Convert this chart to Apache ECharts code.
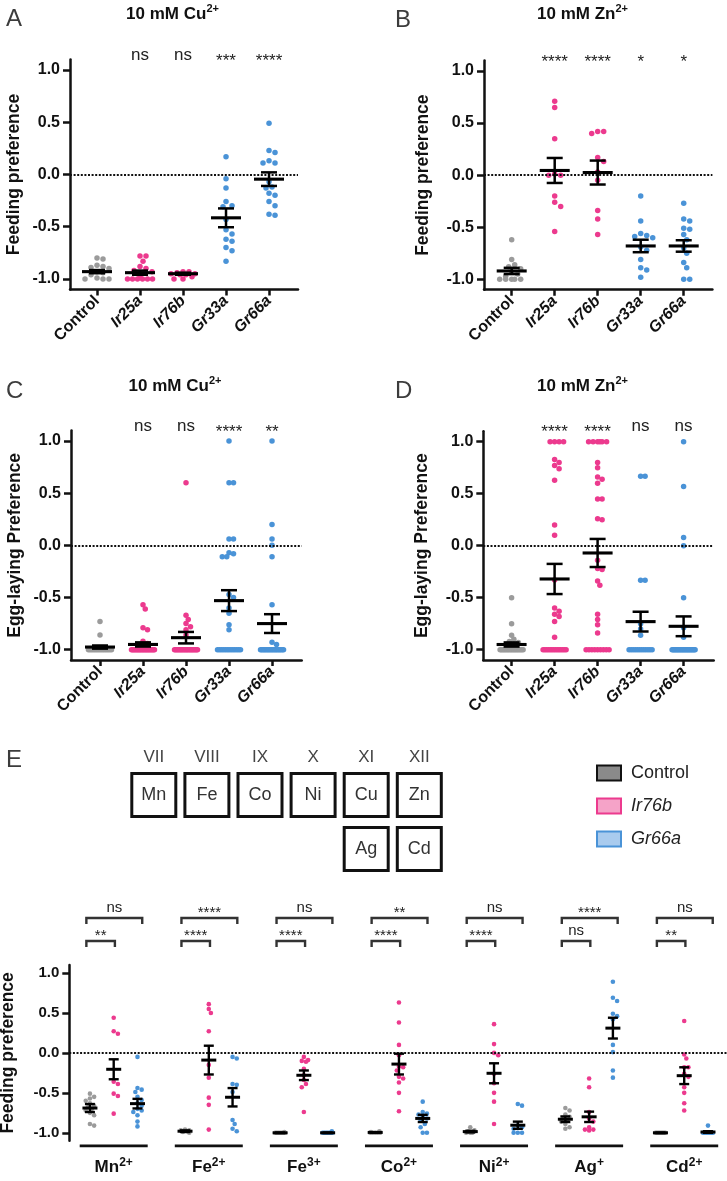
<!DOCTYPE html>
<html><head><meta charset="utf-8">
<script src="https://cdn.jsdelivr.net/npm/echarts@6/dist/echarts.min.js"></script>
<style>html,body{margin:0;padding:0;background:#fff}#c{width:727px;height:1181px}</style>
</head><body><div id="c"></div>
<script>
// ---------------- DATA ----------------
const genotypes = ['Control', 'Ir25a', 'Ir76b', 'Gr33a', 'Gr66a'];
const yTicks = [-1, -0.5, 0, 0.5, 1];

// A: feeding preference, 10 mM Cu2+
const feedCuValues = [
  [-0.80, -0.81, -0.87, -0.88, -0.89, -0.90, -0.93, -0.94, -0.96, -0.99, -1.0, -1.0, -1.0],
  [-0.78, -0.78, -0.83, -0.88, -0.90, -0.92, -0.93, -0.95, -0.98, -1.0, -1.0, -1.0, -1.0, -1.0, -1.0],
  [-0.93, -0.93, -0.94, -0.95, -0.95, -0.96, -0.96, -0.98, -1.0, -1.0],
  [0.17, -0.04, -0.13, -0.26, -0.30, -0.31, -0.43, -0.53, -0.57, -0.62, -0.64, -0.70, -0.73, -0.83],
  [0.49, 0.23, 0.21, 0.13, 0.11, 0.11, -0.07, -0.12, -0.13, -0.18, -0.20, -0.26, -0.30, -0.38, -0.39]
];
const feedCuMean = [-0.93, -0.94, -0.95, -0.415, -0.045];
const feedCuSem = [0.015, 0.02, 0.01, 0.09, 0.065];
const feedCuSig = ['', 'ns', 'ns', '***', '****'];

// B: feeding preference, 10 mM Zn2+
const feedZnValues = [
  [-0.62, -0.81, -0.86, -0.88, -0.90, -0.93, -0.95, -0.97, -1.0, -1.0, -1.0, -1.0, -1.0],
  [0.71, 0.65, 0.35, 0.01, 0.0, 0.0, -0.20, -0.26, -0.30, -0.54],
  [0.42, 0.40, 0.42, 0.17, 0.13, 0.03, -0.05, -0.34, -0.42, -0.57],
  [-0.20, -0.44, -0.56, -0.58, -0.59, -0.60, -0.69, -0.72, -0.81, -0.89, -0.91, -0.98],
  [-0.27, -0.42, -0.44, -0.51, -0.52, -0.57, -0.62, -0.70, -0.75, -0.84, -0.89, -1.0, -1.0]
];
const feedZnMean = [-0.92, 0.045, 0.025, -0.68, -0.68];
const feedZnSem = [0.03, 0.12, 0.115, 0.06, 0.055];
const feedZnSig = ['', '****', '****', '*', '*'];

// C: egg-laying preference, 10 mM Cu2+
const eggCuValues = [
  [-0.73, -0.86, -1, -1, -1, -1, -1, -1, -1, -1, -1, -1, -1, -1, -1, -1],
  [-0.57, -0.61, -0.79, -0.81, -0.92, -0.94, -1, -1, -1, -1, -1, -1, -1, -1, -1, -1, -1, -1, -1, -1, -1, -1, -1, -1, -1, -1, -1],
  [0.6, -0.67, -0.71, -0.75, -0.78, -0.81, -0.86, -1, -1, -1, -1, -1, -1, -1, -1, -1, -1, -1, -1, -1, -1, -1, -1, -1, -1, -1, -1],
  [1.0, 0.6, 0.6, 0.06, 0.06, -0.07, -0.08, -0.11, -0.11, -0.47, -0.5, -0.6, -0.65, -0.76, -0.81, -1, -1, -1, -1, -1, -1, -1, -1, -1, -1, -1, -1, -1],
  [1.0, 0.2, 0.06, 0.0, -0.11, -0.57, -0.93, -0.95, -1, -1, -1, -1, -1, -1, -1, -1, -1, -1, -1, -1, -1, -1, -1, -1, -1, -1]
];
const eggCuMean = [-0.975, -0.95, -0.885, -0.53, -0.75];
const eggCuSem = [0.015, 0.02, 0.055, 0.1, 0.09];
const eggCuSig = ['', 'ns', 'ns', '****', '**'];

// D: egg-laying preference, 10 mM Zn2+
const eggZnValues = [
  [-0.5, -0.75, -0.86, -0.90, -0.92, -0.93, -1, -1, -1, -1, -1, -1, -1, -1, -1, -1, -1, -1, -1, -1, -1, -1, -1],
  [1, 1, 1, 1, 0.83, 0.80, 0.77, 0.74, 0.63, 0.20, 0.10, -0.33, -0.60, -0.63, -0.66, -0.68, -0.73, -0.88, -1, -1, -1, -1, -1, -1, -1, -1, -1, -1, -1, -1, -1, -1],
  [1, 1, 1, 1, 1, 1, 0.80, 0.75, 0.66, 0.64, 0.60, 0.45, 0.45, 0.26, 0.25, -0.14, -0.22, -0.23, -0.34, -0.38, -0.66, -0.71, -0.76, -0.84, -1, -1, -1, -1, -1, -1, -1, -1, -1],
  [0.667, 0.667, -0.333, -0.333, -0.75, -0.80, -0.86, -1, -1, -1, -1, -1, -1, -1, -1, -1, -1, -1, -1],
  [1.0, 0.57, 0.08, 0.0, -0.5, -0.79, -0.88, -1, -1, -1, -1, -1, -1, -1, -1, -1, -1, -1, -1, -1, -1, -1, -1, -1, -1, -1, -1, -1, -1]
];
const eggZnMean = [-0.95, -0.32, -0.07, -0.73, -0.775];
const eggZnSem = [0.02, 0.145, 0.135, 0.095, 0.095];
const eggZnSig = ['', '****', '****', 'ns', 'ns'];

// E: feeding preference for metal ions
const metalIons = [['Mn', '2+'], ['Fe', '2+'], ['Fe', '3+'], ['Co', '2+'], ['Ni', '2+'], ['Ag', '+'], ['Cd', '2+']];
const metalGenotypes = ['Control', 'Ir76b', 'Gr66a'];
const metalControl = [
  [-0.51, -0.55, -0.57, -0.60, -0.63, -0.66, -0.68, -0.70, -0.72, -0.75, -0.78, -0.89, -0.91],
  [-0.96, -0.97, -0.97, -0.98, -0.99, -1.0],
  [-0.99, -1.0, -1.0, -1.0, -1.0, -1.0, -1.0, -1.0],
  [-0.98, -0.99, -1.0, -1.0, -1.0, -1.0, -1.0],
  [-0.93, -0.97, -0.98, -1.0, -1.0, -1.0],
  [-0.69, -0.72, -0.77, -0.80, -0.82, -0.84, -0.86, -0.89, -0.93, -0.95],
  [-1.0, -1.0, -1.0, -1.0, -1.0, -1.0, -1.0, -1.0]
];
const metalIr76b = [
  [0.44, 0.27, 0.24, -0.36, -0.39, -0.51, -0.54, -0.76],
  [0.61, 0.55, 0.50, 0.27, -0.15, -0.31, -0.56, -0.65, -0.96],
  [-0.05, -0.09, -0.10, -0.11, -0.20, -0.28, -0.34, -0.39, -0.43, -0.74],
  [0.63, 0.38, 0.10, -0.03, -0.17, -0.18, -0.22, -0.30, -0.32, -0.37, -0.50, -0.73],
  [0.36, 0.11, 0.0, -0.03, -0.26, -0.38, -0.50, -0.61, -0.89],
  [-0.32, -0.43, -0.74, -0.82, -0.86, -0.93, -0.96, -0.96, -0.97],
  [0.40, -0.02, -0.07, -0.18, -0.18, -0.26, -0.30, -0.43, -0.50, -0.63, -0.72]
];
const metalGr66a = [
  [-0.05, -0.44, -0.46, -0.49, -0.55, -0.59, -0.63, -0.66, -0.70, -0.72, -0.74, -0.78, -0.86, -0.92],
  [-0.05, -0.07, -0.39, -0.40, -0.49, -0.84, -0.89, -0.95, -0.98],
  [-0.98, -1.0, -1.0, -1.0, -1.0, -1.0, -1.0, -1.0],
  [-0.61, -0.74, -0.76, -0.77, -0.80, -0.82, -0.85, -0.89, -0.93, -1.0, -1.0],
  [-0.64, -0.66, -0.91, -0.93, -0.95, -1.0, -1.0, -1.0],
  [0.89, 0.69, 0.65, 0.49, 0.46, 0.42, 0.10, 0.01, -0.22, -0.31],
  [-0.91, -1.0, -1.0, -1.0, -1.0, -1.0, -1.0, -1.0]
];
// [Control, Ir76b, Gr66a]
const metalMeans = [
  [-0.69, -0.205, -0.635], [-0.98, -0.09, -0.555], [-1.0, -0.28, -1.0], [-0.995, -0.14, -0.82],
  [-0.985, -0.255, -0.905], [-0.83, -0.80, 0.31], [-1.0, -0.285, -0.99]
];
const metalSems = [
  [0.05, 0.125, 0.06], [0.01, 0.18, 0.115], [0.003, 0.06, 0.003], [0.003, 0.13, 0.045],
  [0.01, 0.125, 0.045], [0.035, 0.065, 0.13], [0.003, 0.105, 0.01]
];
const sigUpper = ['ns', '****', 'ns', '**', 'ns', '****', 'ns'];   // Control vs Gr66a
const sigLower = ['**', '****', '****', '****', '****', 'ns', '**']; // Control vs Ir76b

// periodic table
const groupNumerals = ['VII', 'VIII', 'IX', 'X', 'XI', 'XII'];
const periodRow1 = ['Mn', 'Fe', 'Co', 'Ni', 'Cu', 'Zn'];
const periodRow2 = ['', '', '', '', 'Ag', 'Cd'];

// ---------------- DRAWING ----------------
const FONT = '"Liberation Sans", Arial, Helvetica, sans-serif';
const GREY = '#9b9b9b', PINK = '#ec3a8e', BLUE = '#4a93d7';
const genoColors = [GREY, PINK, PINK, BLUE, BLUE];
const metalColors = [GREY, PINK, BLUE];

function swarmOffsets(vals, pxX, pxY, spacing, maxHalf) {
  const n = vals.length, offs = new Array(n).fill(0);
  const counts = {};
  vals.forEach(v => { const k = v.toFixed(3); counts[k] = (counts[k] || 0) + 1; });
  const isDense = i => counts[vals[i].toFixed(3)] * spacing > 2 * maxHalf + spacing;
  const idx = vals.map((v, i) => i);
  const order = idx.filter(isDense).concat(idx.filter(i => !isDense(i)).sort((a, b) => vals[b] - vals[a]));
  const placed = [], seen = {};
  for (const i of order) {
    const key = vals[i].toFixed(3), y = vals[i] * pxY;
    let x;
    if (isDense(i)) {
      const c = counts[key];
      const k = seen[key] = (seen[key] === undefined ? 0 : seen[key] + 1);
      x = -maxHalf + k * (2 * maxHalf / (c - 1));
    } else {
      const step = spacing / 2, K = Math.floor(maxHalf / step);
      let best = 0, bestD = -1;
      for (let k = 0; k <= 2 * K; k++) {
        const m = Math.ceil(k / 2) * (k % 2 === 1 ? 1 : -1);
        const cx = m * step;
        let dmin = Infinity;
        for (const p of placed) { const d = Math.hypot(p.x - cx, p.y - y); if (d < dmin) dmin = d; }
        if (dmin >= spacing) { best = cx; break; }
        if (dmin > bestD) { bestD = dmin; best = cx; }
      }
      x = best;
    }
    offs[i] = x / pxX;
    placed.push({ x, y });
  }
  return offs;
}

function errRender(meanHalf, capHalf, lw) {
  return function (params, api) {
    const x = api.value(0), m = api.value(1), s = api.value(2);
    const pm = api.coord([x, m]), pt = api.coord([x, m + s]), pb = api.coord([x, m - s]);
    const st = { stroke: '#000', lineWidth: lw };
    return { type: 'group', children: [
      { type: 'line', shape: { x1: pm[0], y1: pt[1], x2: pm[0], y2: pb[1] }, style: st },
      { type: 'line', shape: { x1: pm[0] - capHalf, y1: pt[1], x2: pm[0] + capHalf, y2: pt[1] }, style: st },
      { type: 'line', shape: { x1: pm[0] - capHalf, y1: pb[1], x2: pm[0] + capHalf, y2: pb[1] }, style: st },
      { type: 'line', shape: { x1: pm[0] - meanHalf, y1: pm[1], x2: pm[0] + meanHalf, y2: pm[1] }, style: { stroke: '#000', lineWidth: lw + 0.6 } }
    ] };
  };
}

function sigRender(labels) {
  return function (params, api) {
    const lab = labels[params.dataIndex];
    if (!lab) return null;
    const p = api.coord([api.value(0), 1.1]);
    const star = lab.indexOf('*') >= 0;
    return { type: 'text', style: { text: lab, x: p[0], y: p[1] + (star ? 1.5 : -4.5), align: 'center', verticalAlign: 'middle',
      fontSize: 17, fontFamily: FONT, fill: '#222' } };
  };
}

function yAxisCfg(gi, nameGap, name, fs) {
  return { gridIndex: gi, type: 'value', min: -1.1, max: 1.1, name: name, nameLocation: 'middle', nameGap: nameGap,
    nameMoveOverlap: false,
    nameTextStyle: { fontSize: 17.5, fontWeight: 'bold', fontFamily: FONT, color: '#111' },
    axisLine: { show: true, onZero: false, lineStyle: { color: '#111', width: 2.5 } },
    axisTick: { show: true, customValues: yTicks, length: 7, lineStyle: { color: '#111', width: 2.5 } },
    axisLabel: { customValues: yTicks, formatter: v => v.toFixed(1), fontSize: fs, fontWeight: 'bold', fontFamily: FONT, color: '#111', margin: 10 },
    splitLine: { show: false } };
}

const zeroLine = { silent: true, symbol: 'none', label: { show: false }, animation: false,
  lineStyle: { color: '#111', type: [2, 1.6], width: 2 }, data: [{ yAxis: 0 }] };

const panels = [
  { vals: feedCuValues, means: feedCuMean, sems: feedCuSem, sig: feedCuSig, yName: 'Feeding preference' },
  { vals: feedZnValues, means: feedZnMean, sems: feedZnSem, sig: feedZnSig, yName: 'Feeding preference' },
  { vals: eggCuValues, means: eggCuMean, sems: eggCuSem, sig: eggCuSig, yName: 'Egg-laying Preference' },
  { vals: eggZnValues, means: eggZnMean, sems: eggZnSem, sig: eggZnSig, yName: 'Egg-laying Preference' }
];
const geom = [
  { left: 70, top: 59.5, width: 228, height: 229.9, xmin: -0.628, xmax: 4.674, nameGap: 47, maxHalf: 12.5, spacing: 6 },
  { left: 484, top: 60.6, width: 228.4, height: 229.1, xmin: -0.644, xmax: 4.667, nameGap: 52, maxHalf: 12.5, spacing: 6 },
  { left: 71, top: 430.6, width: 230.7, height: 229.5, xmin: -0.674, xmax: 4.69, nameGap: 47, maxHalf: 11.5, spacing: 4.5 },
  { left: 483.3, top: 431.3, width: 230.4, height: 228.8, xmin: -0.658, xmax: 4.70, nameGap: 52, maxHalf: 11.5, spacing: 4.5 }
];

const grids = [], xAxes = [], yAxes = [], series = [];
const labelRich = {
  n: { fontSize: 16, fontWeight: 'bold', fontFamily: FONT, color: '#111' },
  i: { fontSize: 16, fontWeight: 'bold', fontStyle: 'italic', fontFamily: FONT, color: '#111' }
};

panels.forEach((P, pi) => {
  const G = geom[pi];
  grids.push({ left: G.left, top: G.top, width: G.width, height: G.height, outerBoundsMode: 'none', containLabel: false });
  xAxes.push({ gridIndex: pi, type: 'value', min: G.xmin, max: G.xmax,
    axisLine: { show: true, onZero: false, lineStyle: { color: '#111', width: 2.5 } },
    axisTick: { show: true, customValues: [0, 1, 2, 3, 4], length: 6, lineStyle: { color: '#111', width: 2.5 } },
    axisLabel: { customValues: [0, 1, 2, 3, 4], rotate: 45, margin: 9, hideOverlap: false,
      formatter: v => { const k = Math.round(v); return (k === 0 ? '{n|' : '{i|') + genotypes[k] + '}'; }, rich: labelRich },
    splitLine: { show: false } });
  yAxes.push(yAxisCfg(pi, G.nameGap, P.yName, 16));
  const pxX = G.width / (G.xmax - G.xmin), pxY = G.height / 2.2;
  P.vals.forEach((vals, gi) => {
    const offs = swarmOffsets(vals, pxX, pxY, G.spacing, G.maxHalf);
    const s = { type: 'scatter', name: 'p' + pi + '-' + genotypes[gi], xAxisIndex: pi, yAxisIndex: pi, symbolSize: 5.5,
      itemStyle: { color: genoColors[gi], opacity: 1 }, silent: true, z: 2,
      data: vals.map((v, k) => [gi + offs[k], v]) };
    if (gi === 0) s.markLine = zeroLine;
    series.push(s);
  });
  series.push({ type: 'custom', xAxisIndex: pi, yAxisIndex: pi, renderItem: errRender(15, 8, 2.5), silent: true, z: 5,
    encode: { x: 0, y: 1 }, data: P.means.map((m, i) => [i, m, P.sems[i]]) });
  series.push({ type: 'custom', xAxisIndex: pi, yAxisIndex: pi, renderItem: sigRender(P.sig), silent: true, z: 5,
    encode: { x: 0, y: 1 }, data: genotypes.map((g, i) => [i, 1.1]) });
});

// ---- Panel E ----
const E = { left: 69.3, top: 965, height: 175.8, right: 0, xmin: -0.868, xmax: 26.80 };
const eIdx = 4;
grids.push({ left: E.left, top: E.top, height: E.height, right: E.right, outerBoundsMode: 'none', containLabel: false });
const groupCenters = metalIons.map((m, g) => g * 4 + 1);
xAxes.push({ gridIndex: eIdx, type: 'value', min: E.xmin, max: E.xmax,
  axisLine: { show: false }, axisTick: { show: false }, splitLine: { show: false },
  axisLabel: { customValues: groupCenters, margin: 16, hideOverlap: false,
    formatter: v => { const g = Math.round((v - 1) / 4); return '{b|' + metalIons[g][0] + '}{s|' + metalIons[g][1] + '}'; },
    rich: { b: { fontSize: 17, fontWeight: 'bold', fontFamily: FONT, color: '#111', lineHeight: 22 },
            s: { fontSize: 12, fontWeight: 'bold', fontFamily: FONT, color: '#111', verticalAlign: 'top', lineHeight: 12 } } } });
yAxes.push(yAxisCfg(eIdx, 52, 'Feeding preference', 15));
const ePxX = (727 - E.left) / (E.xmax - E.xmin), ePxY = E.height / 2.2;
[metalControl, metalIr76b, metalGr66a].forEach((set, s) => {
  const data = [];
  set.forEach((vals, g) => {
    const offs = swarmOffsets(vals, ePxX, ePxY, 4.2, 5);
    vals.forEach((v, k) => data.push([g * 4 + s + offs[k], v]));
  });
  const ser = { type: 'scatter', name: metalGenotypes[s], xAxisIndex: eIdx, yAxisIndex: eIdx, symbolSize: 4.6,
    itemStyle: { color: metalColors[s], opacity: 1 }, silent: true, z: 2, data: data };
  if (s === 0) ser.markLine = zeroLine;
  series.push(ser);
});
const eErr = [];
metalMeans.forEach((row, g) => row.forEach((m, s) => eErr.push([g * 4 + s, m, metalSems[g][s]])));
series.push({ type: 'custom', xAxisIndex: eIdx, yAxisIndex: eIdx, renderItem: errRender(7.5, 5, 2.4), silent: true, z: 5,
  encode: { x: 0, y: 1 }, data: eErr });
// group underlines
series.push({ type: 'custom', xAxisIndex: eIdx, yAxisIndex: eIdx, silent: true, z: 5, encode: { x: 0, y: 1 },
  data: metalIons.map((m, g) => [g * 4 + 1, -1.1]),
  renderItem: (params, api) => {
    const g = params.dataIndex;
    const a = api.coord([g * 4 - 0.43, -1.1]), b = api.coord([g * 4 + 2.43, -1.1]);
    return { type: 'line', shape: { x1: a[0], y1: a[1] + 5, x2: b[0], y2: a[1] + 5 }, style: { stroke: '#111', lineWidth: 2.8 } };
  } });
// significance brackets
series.push({ type: 'custom', xAxisIndex: eIdx, yAxisIndex: eIdx, silent: true, z: 5, encode: { x: 0, y: 1 },
  data: metalIons.map((m, g) => [g * 4 + 1, 1.1]),
  renderItem: (params, api) => {
    const g = params.dataIndex;
    const top = api.coord([0, 1.1])[1];
    const xc = api.coord([g * 4 - 0.15, 1.1])[0];
    const xg = api.coord([g * 4 + 2.2, 1.1])[0];
    const xi = api.coord([g * 4 + 1.05, 1.1])[0];
    const st = { stroke: '#333', lineWidth: 2.4, fill: 'none' };
    const yU = top - 47, yL = top - 24;
    const txt = (t, x, y) => ({ type: 'text', style: { text: t, x: x, y: y + (t.indexOf('*') >= 0 ? 5 : 0), align: 'center', verticalAlign: 'middle',
      fontSize: 15, fontFamily: FONT, fill: '#222' } });
    return { type: 'group', children: [
      { type: 'polyline', shape: { points: [[xc, yU + 6], [xc, yU], [xg, yU], [xg, yU + 6]] }, style: st },
      { type: 'polyline', shape: { points: [[xc, yL + 6], [xc, yL], [xi, yL], [xi, yL + 6]] }, style: st },
      txt(sigUpper[g], (xc + xg) / 2, yU - 10),
      txt(sigLower[g], (xc + xi) / 2, yL - 10)
    ] };
  } });

// ---- graphic: letters, titles, periodic table ----
const graphic = [];
const letter = (t, x, y) => graphic.push({ type: 'text', x: x, y: y, silent: true,
  style: { text: t, fontSize: 24, fontFamily: FONT, fill: '#3c3c3c', verticalAlign: 'middle' } });
letter('A', 6, 19); letter('B', 395, 20); letter('C', 6, 391); letter('D', 395, 391.5); letter('E', 6, 760);
const titleRich = {
  a: { fontSize: 17, fontWeight: 'bold', fontFamily: FONT, fill: '#111', lineHeight: 22 },
  s: { fontSize: 11, fontWeight: 'bold', fontFamily: FONT, fill: '#111', verticalAlign: 'top', lineHeight: 11 }
};
const title = (ion, x, y) => graphic.push({ type: 'text', x: x, y: y, silent: true,
  style: { text: '{a|10 mM ' + ion + '}{s|2+}', rich: titleRich, align: 'center', verticalAlign: 'middle' } });
title('Cu', 172.5, 14); title('Zn', 582.5, 14); title('Cu', 175, 386); title('Zn', 582.5, 386);

const boxX0 = 130.3, boxPitch = 53.1, boxW = 47, boxH = 46;
groupNumerals.forEach((gn, k) => {
  const x = boxX0 + k * boxPitch;
  graphic.push({ type: 'text', x: x + boxW / 2, y: 757, silent: true,
    style: { text: gn, fontSize: 17, fontFamily: FONT, fill: '#444', align: 'center', verticalAlign: 'middle' } });
  [[periodRow1[k], 772], [periodRow2[k], 826]].forEach(([el, y]) => {
    if (!el) return;
    graphic.push({ type: 'rect', silent: true, shape: { x: x + 1.5, y: y + 1.5, width: boxW - 3, height: boxH - 3 },
      style: { fill: '#fff', stroke: '#111', lineWidth: 3 } });
    graphic.push({ type: 'text', x: x + boxW / 2, y: y + boxH / 2, silent: true,
      style: { text: el, fontSize: 18, fontFamily: FONT, fill: '#333', align: 'center', verticalAlign: 'middle' } });
  });
});

const option = {
  animation: false,
  backgroundColor: '#fff',
  grid: grids, xAxis: xAxes, yAxis: yAxes, series: series, graphic: graphic,
  legend: { orient: 'vertical', left: 591, top: 759, itemWidth: 24, itemHeight: 15, itemGap: 15, icon: 'rect',
    selectedMode: false, textStyle: { fontSize: 18, fontFamily: FONT, color: '#222', padding: [0, 0, 0, 5] },
    data: [
      { name: 'Control', itemStyle: { color: '#8a8a8a', borderColor: '#111', borderWidth: 2 } },
      { name: 'Ir76b', itemStyle: { color: '#f5a3c8', borderColor: '#ec3a8e', borderWidth: 2 }, textStyle: { fontStyle: 'italic' } },
      { name: 'Gr66a', itemStyle: { color: '#a9cbee', borderColor: '#4a93d7', borderWidth: 2 }, textStyle: { fontStyle: 'italic' } }
    ] }
};
const chart = echarts.init(document.getElementById('c'), null, { renderer: 'canvas' });
chart.setOption(option);
</script>
</body></html>
